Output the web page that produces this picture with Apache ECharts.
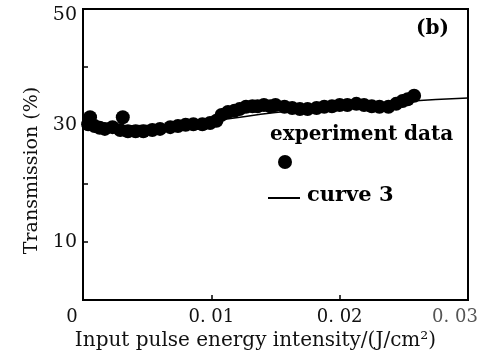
<!DOCTYPE html>
<html>
<head>
<meta charset="utf-8">
<script src="https://cdn.jsdelivr.net/npm/echarts@6/dist/echarts.min.js"></script>
<style>
  html, body { margin: 0; padding: 0; background: #fff; }
  #chart { width: 501px; height: 356px; }
</style>
</head>
<body>
<div id="chart"></div>
<script>
// experiment data: input energy (J/cm2) and transmission (%)
var expX = [0.0004, 0.00055, 0.0009, 0.0013, 0.0017, 0.0023, 0.0029, 0.0031, 0.0035, 0.0041,
  0.0047, 0.0054, 0.006, 0.0068, 0.0074, 0.008, 0.0086, 0.0093, 0.0099, 0.0104,
  0.0108, 0.0113, 0.0118, 0.0122, 0.0127, 0.0132, 0.0136, 0.0141, 0.0146, 0.015,
  0.0157, 0.0163, 0.0169, 0.0175, 0.0182, 0.0188, 0.0194, 0.02, 0.0206, 0.0213,
  0.0219, 0.0225, 0.0231, 0.0238, 0.0244, 0.0249, 0.0253, 0.0258];
var expY = [30.2, 31.4, 29.9, 29.6, 29.4, 29.7, 29.2, 31.4, 29.0, 29.0,
  29.0, 29.2, 29.4, 29.7, 29.9, 30.1, 30.2, 30.2, 30.4, 30.8,
  31.8, 32.3, 32.5, 32.8, 33.2, 33.3, 33.3, 33.5, 33.3, 33.5,
  33.2, 33.0, 32.8, 32.8, 33.0, 33.2, 33.3, 33.5, 33.5, 33.7,
  33.5, 33.3, 33.2, 33.2, 33.7, 34.2, 34.5, 35.1];

// fitted curve 3
var curveX = [0, 0.005, 0.01, 0.015, 0.02, 0.025, 0.03];
var curveY = [29.9, 30.0, 30.8, 32.2, 33.3, 34.1, 34.7];

var xTicks = ['0', '0. 01', '0. 02', '0. 03'];
var yShown = [0, 10, 30, 50];

var serif = '"DejaVu Serif", "Liberation Serif", serif';

var chart = echarts.init(document.getElementById('chart'));

var expData = expX.map(function (x, i) { return [x, expY[i]]; });
var curveData = curveX.map(function (x, i) { return [x, curveY[i]]; });

var option = {
  backgroundColor: '#fff',
  animation: false,
  grid: {
    left: 83, top: 9, right: 33, bottom: 56,
    show: true,
    borderColor: '#000',
    borderWidth: 2
  },
  xAxis: {
    type: 'value',
    min: 0, max: 0.03, interval: 0.01,
    splitLine: { show: false },
    axisLine: { lineStyle: { color: '#000', width: 2 } },
    axisTick: { inside: true, length: 5, lineStyle: { color: '#000', width: 1.5 } },
    axisLabel: {
      margin: 8,
      fontFamily: serif,
      fontSize: 18,
      color: '#111',
      formatter: function (v) {
        var i = Math.round(v / 0.01);
        if (i === 0) return '{z|0}';
        if (i === 3) return '{e|' + xTicks[i] + '}';
        return xTicks[i];
      },
      rich: {
        z: { fontFamily: serif, fontSize: 18, color: '#111', padding: [0, 22, 0, 0] },
        e: { fontFamily: serif, fontSize: 18, color: '#555', padding: [0, 26, 0, 0] }
      }
    },
    name: 'Input pulse energy intensity/(J/cm²)',
    nameLocation: 'middle',
    nameGap: 31,
    nameTextStyle: { fontFamily: serif, fontSize: 20, color: '#111', padding: [0, 40, 0, 0] }
  },
  yAxis: {
    type: 'value',
    min: 0, max: 50, interval: 10,
    splitLine: { show: false },
    axisLine: { lineStyle: { color: '#000', width: 2 } },
    axisTick: { inside: true, length: 5, lineStyle: { color: '#000', width: 1.5 } },
    axisLabel: {
      margin: 6,
      fontFamily: serif,
      fontSize: 19,
      color: '#111',
      formatter: function (v) {
        if (v === 50) return '{t|50}';
        if (v === 0) return '';
        return yShown.indexOf(v) >= 0 ? String(v) : '';
      },
      rich: {
        t: { fontFamily: serif, fontSize: 19, color: '#111', padding: [12, 0, 0, 0] }
      }
    },
    name: 'Transmission (%)',
    nameLocation: 'middle',
    nameGap: 38,
    nameTextStyle: { fontFamily: serif, fontSize: 19, color: '#111', padding: [0, 32, 0, 0] }
  },
  series: [
    {
      name: 'curve 3',
      type: 'line',
      data: curveData,
      smooth: true,
      showSymbol: false,
      lineStyle: { color: '#000', width: 1.5 },
      z: 1
    },
    {
      name: 'experiment data',
      type: 'scatter',
      data: expData,
      symbol: 'circle',
      symbolSize: 14,
      itemStyle: { color: '#000', opacity: 1 },
      z: 2
    }
  ],
  graphic: [
    {
      type: 'text', left: 416, top: 19,
      style: { text: '(b)', font: 'bold 20px ' + serif, fill: '#000' }
    },
    {
      type: 'text', left: 270, top: 125,
      style: { text: 'experiment data', font: 'bold 20px ' + serif, fill: '#000' }
    },
    {
      type: 'circle', shape: { cx: 285, cy: 162, r: 7 },
      style: { fill: '#000' }
    },
    {
      type: 'line', shape: { x1: 268, y1: 198, x2: 300, y2: 198 },
      style: { stroke: '#000', lineWidth: 2 }
    },
    {
      type: 'text', left: 307, top: 185,
      style: { text: 'curve 3', font: 'bold 21px ' + serif, fill: '#000' }
    }
  ]
};

chart.setOption(option);
</script>
</body>
</html>
